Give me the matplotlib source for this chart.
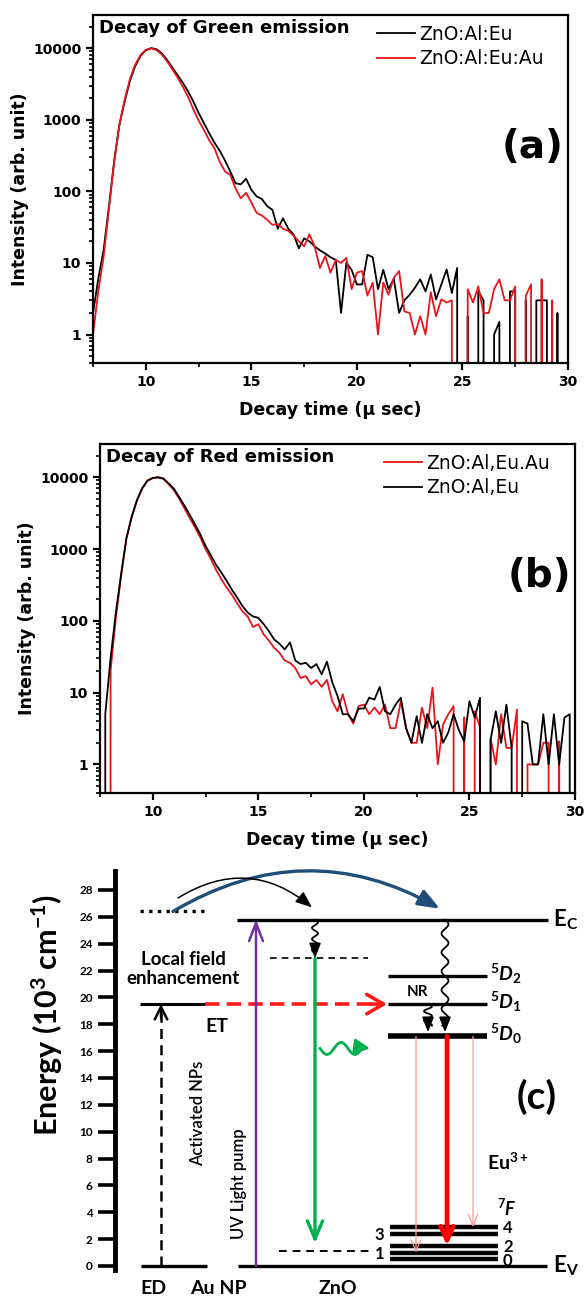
import numpy as np
import matplotlib
matplotlib.use('Agg')
import matplotlib.pyplot as plt
from matplotlib.ticker import MultipleLocator, LogLocator, NullFormatter

plt.rcParams['font.family'] = ['DejaVu Sans']
plt.rcParams['mathtext.fontset'] = 'custom'
plt.rcParams['mathtext.rm'] = 'Lato:bold'
plt.rcParams['mathtext.it'] = 'Lato:italic:bold'
plt.rcParams['mathtext.bf'] = 'Lato:bold'

# ---- decay curves, sampled every 0.25 usec ----
decay_time = [7.5, 7.75,
              8.0, 8.25, 8.5, 8.75, 9.0, 9.25, 9.5, 9.75,
              10.0, 10.25, 10.5, 10.75, 11.0, 11.25, 11.5, 11.75,
              12.0, 12.25, 12.5, 12.75, 13.0, 13.25, 13.5, 13.75,
              14.0, 14.25, 14.5, 14.75, 15.0, 15.25, 15.5, 15.75,
              16.0, 16.25, 16.5, 16.75, 17.0, 17.25, 17.5, 17.75,
              18.0, 18.25, 18.5, 18.75, 19.0, 19.25, 19.5, 19.75,
              20.0, 20.25, 20.5, 20.75, 21.0, 21.25, 21.5, 21.75,
              22.0, 22.25, 22.5, 22.75, 23.0, 23.25, 23.5, 23.75,
              24.0, 24.25, 24.5, 24.75, 25.0, 25.25, 25.5, 25.75,
              26.0, 26.25, 26.5, 26.75, 27.0, 27.25, 27.5, 27.75,
              28.0, 28.25, 28.5, 28.75, 29.0, 29.25, 29.5, 29.75,
              30.0]

# (a) green emission
green_al_eu = [2, 6,
               15, 60, 260, 850, 1800, 3500, 5600, 7800,
               9300, 10000, 9700, 8500, 6900, 5400, 4200, 3300,
               2500, 1800, 1250, 900, 650, 480, 370, 270,
               190, 130, 125, 150, 105, 85, 78, 62,
               55, 30, 42, 30, 25, 16, 22, 20,
               17, 15, 13.5, 12, 11, 2, 10, 8,
               5, 5, 13, 12, 4.3, 8, 4.3, 6,
               2, 3, 3.6, 4.5, 5.9, 4, 6.9, 3.1,
               5, 8.1, 3.8, 8.5, 0, 1.8, 0, 4,
               3, 0, 1, 1.5, 0, 4, 4, 0,
               3, 0, 3, 3, 3, 0, 2, 0,
               1]
green_al_eu_au = [1, 4,
                  12, 55, 250, 850, 1900, 3700, 5900, 8000,
                  9500, 9900, 9400, 8200, 6600, 5100, 3900, 2900,
                  2100, 1400, 980, 720, 520, 400, 260, 190,
                  170, 110, 80, 95, 70, 50, 46, 40,
                  34, 35, 30, 28, 24, 20, 17, 25,
                  17, 8.5, 12.5, 7.3, 11, 10, 11.7, 4.3,
                  7.3, 7.7, 3.5, 5.3, 1.0, 5.3, 3.6, 6.2,
                  7.7, 2.1, 2, 1.0, 1.8, 1.0, 3.9, 1.8,
                  3.1, 2.8, 3, 0, 0, 4.3, 2.8, 4.7,
                  2, 2, 4.3, 5.9, 3, 3, 4.7, 0,
                  3.5, 5, 0, 5.9, 0, 3, 0, 0,
                  0]

# (b) red emission
red_al_eu_au = [0, 0,
                20, 110, 420, 1400, 2800, 4700, 7000, 8900,
                9700, 9900, 9500, 8000, 6600, 5000, 3700, 2700,
                2000, 1450, 1000, 730, 510, 380, 290, 230,
                175, 135, 114, 82, 90, 65, 53, 42,
                36, 28, 26, 22, 16, 17, 13, 15,
                12, 15, 7.6, 5.5, 9.5, 5, 3.7, 6.5,
                6.8, 5, 6.2, 5, 6.8, 3.2, 3.2, 7.6,
                3.2, 2, 2, 6.2, 3.2, 11.7, 1, 3.6,
                5, 6.5, 0, 4.5, 0, 5.5, 3.3, 0,
                2.3, 1, 5, 1.7, 1.7, 5.8, 0, 1,
                1, 1, 2, 2, 0, 2.1, 0, 0,
                0]
red_al_eu = [0, 5,
             30, 130, 450, 1400, 2800, 4800, 7000, 9000,
             9800, 10000, 9600, 8200, 6900, 5300, 4000, 3000,
             2200, 1600, 1100, 820, 600, 470, 360, 270,
             210, 160, 130, 115, 110, 90, 72, 55,
             48, 40, 50, 28, 25, 26, 22, 25,
             18, 27, 14, 9, 5, 5, 4, 6,
             6, 8.5, 8, 12, 5.5, 5, 6.8, 8.5,
             3.2, 2, 4.7, 2, 5, 3.2, 4, 2,
             2.8, 5, 3, 2.1, 7.6, 4.5, 8.5, 0,
             2.2, 5.5, 2, 6.8, 1.7, 0, 4, 3.7,
             1, 1, 5, 1, 5, 1, 4.5, 5,
             0]

intensity_ticks = [1, 10, 100, 1000, 10000]
intensity_labels = ['1', '10', '100', '1000', '10000']
time_ticks = [10, 15, 20, 25, 30]

# ---- energy level scheme (10^3 cm^-1) ----
energy_ticks = [0, 2, 4, 6, 8, 10, 12, 14, 16, 18, 20, 22, 24, 26, 28]
au_plasmon = 26.4
au_level = 19.5
zno_ec = 25.8
zno_ev = 0.0
zno_trap_high = 22.9
zno_trap_low = 1.1
eu_5d_levels = [21.6, 19.5, 17.1]
eu_5d_names = ['2', '1', '0']
eu_7f_levels = [2.9, 2.4, 1.5, 1.0, 0.5]
eu_7f_names = ['4', '3', '2', '1', '0']
eu_7f_sides = ['r', 'l', 'r', 'l', 'r']
green_target = 1.7
red_targets = [1.0, 1.5, 2.9]

W, H = 584, 1301
fig = plt.figure(figsize=(W / 100, H / 100), dpi=100)


def px_axes(left, top, right, bottom):
    return fig.add_axes([left / W, 1 - bottom / H, (right - left) / W, (bottom - top) / H])


def decay_panel(ax, series, colors, labels, title, tag, legend_x):
    for y, c, lab in zip(series, colors, labels):
        ax.plot(decay_time, y, color=c, lw=1.3, label=lab)
    ax.set_yscale('log', nonpositive='clip')
    ax.set_xlim(7.5, 30)
    ax.set_ylim(0.4, 29000)
    ax.set_yticks(intensity_ticks)
    ax.set_yticklabels(intensity_labels)
    ax.yaxis.set_minor_locator(LogLocator(base=10, subs=np.arange(2, 10)))
    ax.yaxis.set_minor_formatter(NullFormatter())
    ax.set_xticks(time_ticks)
    ax.xaxis.set_minor_locator(MultipleLocator(2.5))
    for s in ax.spines.values():
        s.set_linewidth(1.6)
    ax.tick_params(which='major', direction='out', length=5, width=1.6, labelsize=10)
    ax.tick_params(which='minor', direction='out', length=3, width=1.2)
    for lab in ax.get_xticklabels() + ax.get_yticklabels():
        lab.set_fontweight('bold')
    ax.set_xlabel('Decay time (\u03bc sec)', fontsize=12.5, fontweight='bold', labelpad=9)
    ax.set_ylabel('Intensity (arb. unit)', fontsize=12.5, fontweight='bold', labelpad=3)
    ax.text(0.013, 0.962, title, transform=ax.transAxes, fontsize=13, fontweight='bold',
            ha='left', va='center')
    ax.text(0.925, 0.622, tag, transform=ax.transAxes, fontsize=28, fontweight='bold',
            ha='center', va='center')
    ax.legend(loc='upper left', bbox_to_anchor=(legend_x, 0.983), frameon=False,
              fontsize=13.5, handlelength=2.0, handletextpad=0.25, labelspacing=0.3,
              borderaxespad=0, borderpad=0.2)


ax_a = px_axes(93, 15, 568, 363)
decay_panel(ax_a, [green_al_eu, green_al_eu_au], ['black', '#e8141b'],
            ['ZnO:Al:Eu', 'ZnO:Al:Eu:Au'], 'Decay of Green emission', '(a)', 0.59)

ax_b = px_axes(100, 444, 575, 793)
decay_panel(ax_b, [red_al_eu_au, red_al_eu], ['#e8141b', 'black'],
            ['ZnO:Al,Eu.Au', 'ZnO:Al,Eu'], 'Decay of Red emission', '(b)', 0.59)

# ---- (c) energy diagram; x in pixel units, y in 10^3 cm^-1 ----
ax_c = px_axes(115, 850, 584, 1301)
ax_c.set_xlim(115, 584)
ax_c.set_ylim(-(1301 - 1266) / 13.43, (1266 - 850) / 13.43)
for k in ['top', 'right', 'bottom']:
    ax_c.spines[k].set_visible(False)
ax_c.spines['left'].set_linewidth(3.5)
ax_c.spines['left'].set_bounds(-0.3, 29.4)
ax_c.set_xticks([])
ax_c.set_yticks(energy_ticks)
ax_c.tick_params(axis='y', direction='out', length=12, width=2.6, pad=4, labelsize=8.5)
for lab in ax_c.get_yticklabels():
    lab.set_fontweight('bold')
    lab.set_fontfamily('Lato')
fig.text(47 / W, 1 - 1015 / H, 'Energy (10$^{3}$ cm$^{-1}$)', rotation=90, ha='center',
         va='center', fontsize=22, fontweight='bold', family='Lato')

LAB = dict(family='Lato', fontweight='bold')


def hline(x0, x1, y, **kw):
    ax_c.plot([x0, x1], [y, y], solid_capstyle='butt', **kw)


def arrow(x0, y0, x1, y1, color, lw, style='->', hl=1.0, hw=0.5, rad=None):
    props = dict(arrowstyle=f'{style},head_length={hl},head_width={hw}', color=color,
                 lw=lw, shrinkA=0, shrinkB=0)
    if rad is not None:
        props['connectionstyle'] = f'arc3,rad={rad}'
    ax_c.annotate('', xy=(x1, y1), xytext=(x0, y0), arrowprops=props)


def wavy(x, y0, y1, amp, turns, color='black', lw=1.3):
    yy = np.linspace(y0, y1 + 0.5, 200)
    xx = x + amp * np.sin(2 * np.pi * turns * (yy - y0) / (y1 - y0))
    ax_c.plot(xx, yy, color=color, lw=lw)
    arrow(x, y1 + 0.6, x, y1, color, lw, style='-|>', hl=0.9, hw=0.35)


# Au NP column
hline(140, 207, au_plasmon, color='black', lw=2.4, ls=(0, (1, 1.6)))
hline(141, 207, zno_ev, color='black', lw=2.4)
hline(140, 205, au_level, color='black', lw=2.2)
ax_c.plot([161, 161], [zno_ev, au_level - 0.5], color='black', lw=1.8, ls=(0, (4, 2.5)))
arrow(161, au_level - 1.0, 161, au_level, 'black', 1.8, hl=0.9, hw=0.45)
# energy transfer (red dashed)
hline(205, 380, au_level, color='#ff1a1a', lw=2.6, ls=(0, (4, 2)))
arrow(370, au_level, 387, au_level, '#ff1a1a', 2.6, hl=1.2, hw=0.7)

# ZnO column
hline(237, 548, zno_ec, color='black', lw=2.4)
hline(238, 547, zno_ev, color='black', lw=2.4)
hline(270, 368, zno_trap_high, color='black', lw=1.2, ls=(0, (4, 3)))
hline(279, 369, zno_trap_low, color='black', lw=1.4, ls=(0, (4, 3)))
arrow(256, zno_ev, 256, zno_ec, '#7030a0', 1.8, hl=1.3, hw=0.5)
wavy(315, zno_ec, zno_trap_high, 3.0, 3.5)
arrow(315, zno_trap_high, 315, green_target, '#00b050', 2.4, hl=1.3, hw=0.55)
gx = np.linspace(320, 362, 100)
ax_c.plot(gx, 16.2 - 0.45 * np.sin(2 * np.pi * (gx - 320) / 28), color='#00b050', lw=2)
arrow(360, 16.3, 370, 16.2, '#00b050', 2, style='-|>', hl=0.9, hw=0.45)

# Eu3+ column
for lev, name in zip(eu_5d_levels, eu_5d_names):
    hline(388, 487, lev, color='black', lw=4 if name == '0' else 2.4)
    ax_c.text(490, lev + 0.15, f'$^{{5}}D_{{{name}}}$', fontsize=14, ha='left', va='center', **LAB)
for lev, name, side in zip(eu_7f_levels, eu_7f_names, eu_7f_sides):
    hline(390, 498, lev, color='black', lw=3.2)
    if side == 'r':
        ax_c.text(503, lev - 0.1, name, fontsize=12, ha='left', va='center', **LAB)
    else:
        ax_c.text(384, lev - 0.1, name, fontsize=12, ha='right', va='center', **LAB)
wavy(445, zno_ec, eu_5d_levels[2] + 0.3, 3.5, 6)
wavy(428, eu_5d_levels[1], eu_5d_levels[2] + 0.3, 4.0, 3)
for x, tgt in zip([416, 447, 473], red_targets):
    if x == 447:
        arrow(x, eu_5d_levels[2], x, tgt, '#ff0000', 3.4, hl=1.0, hw=0.45)
    else:
        arrow(x, eu_5d_levels[2], x, tgt, '#ff9a9a', 0.9, hl=0.8, hw=0.35)

# plasmon transfer arcs
arrow(173, au_plasmon, 440, 26.6, '#1f4e79', 2.4, style='-|>', hl=1.3, hw=0.5, rad=-0.29)
arrow(178, 27.4, 312, 26.7, 'black', 1.1, style='-|>', hl=1.0, hw=0.4, rad=-0.36)

# labels
ax_c.text(183, 22.1, 'Local field\nenhancement', fontsize=13.5, ha='center', va='center',
          linespacing=1.15, **LAB)
ax_c.text(217, 17.8, 'ET', fontsize=14, ha='center', va='center', **LAB)
ax_c.text(418, 20.4, 'NR', fontsize=11, ha='center', va='center', **LAB)
ax_c.text(198, 11.4, 'Activated NPs', fontsize=12, rotation=90, ha='center', va='center',
          family='Lato', fontweight='semibold')
ax_c.text(239, 6.1, 'UV Light pump', fontsize=12, rotation=90, ha='center', va='center',
          family='Lato', fontweight='semibold')
ax_c.text(553, zno_ec, 'E$_{\\mathrm{C}}$', fontsize=16, ha='left', va='center', **LAB)
ax_c.text(553, zno_ev, 'E$_{\\mathrm{V}}$', fontsize=16, ha='left', va='center', **LAB)
ax_c.text(537, 12.6, '(c)', fontsize=28, ha='center', va='center', **LAB)
ax_c.text(508, 7.7, 'Eu$^{3+}$', fontsize=14, ha='center', va='center', **LAB)
ax_c.text(507, 4.3, '$^{7}F$', fontsize=13, ha='center', va='center', **LAB)
for x, name in zip([153, 218, 338], ['ED', 'Au NP', 'ZnO']):
    ax_c.text(x, -1.65, name, fontsize=14, ha='center', va='center', **LAB)

fig.savefig('out.png', dpi=100)
